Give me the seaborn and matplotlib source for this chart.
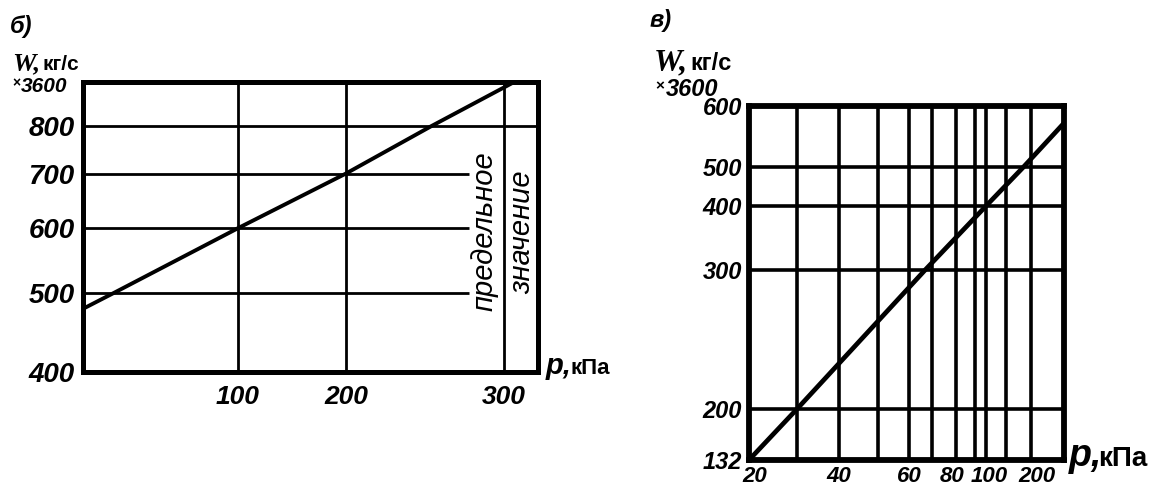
import numpy as np
import matplotlib
matplotlib.use("Agg")
import matplotlib.pyplot as plt
from matplotlib.transforms import ScaledTranslation
import seaborn as sns

# panel б) : W (x3600 kg/s) vs p (kPa), semi-log
p_b = [0, 20, 100, 200, 254, 306]
w_b = [478, 500, 600, 700, 800, 906]
b_xticks = [100, 200, 300]
b_yticks = [400, 500, 600, 700, 800]

# panel в) : nomogram grid
p_v = [20, 30, 67, 100, 185, 300]
w_v = [132, 200, 300, 400, 500, 572]
v_xgrid = [30, 40, 50, 60, 70, 80, 90, 100, 150, 200]
v_xticks = [20, 40, 60, 80, 100, 200]
v_ygrid = [200, 300, 400, 500]
v_yticks = [132, 200, 300, 400, 500, 600]

# the printed axes are not uniform -> ruler of value vs. position measured on the scan
b_xruler = ([0, 100, 200, 300, 320], [0, 155, 263, 421, 455])
v_xruler = ([20, 30, 40, 50, 60, 70, 80, 90, 100, 150, 200, 300],
            [0, 48, 90, 129, 160, 183, 207, 226, 237, 257, 282, 315])
v_yruler = ([132, 200, 300, 400, 500, 600], [0, 51, 190, 254, 293, 354])


def ruler(vals, pos):
    fwd = lambda v: np.interp(v, vals, pos)
    inv = lambda u: np.interp(u, pos, vals)
    return fwd, inv


sns.set_theme(style="white")
plt.rcParams['font.family'] = ['Liberation Sans', 'DejaVu Sans']
plt.rcParams['text.color'] = 'black'
plt.rcParams['xtick.color'] = 'black'
plt.rcParams['ytick.color'] = 'black'

W, H = 1157, 488
fig = plt.figure(figsize=(W / 100, H / 100), dpi=100)


def fx(px):
    return px / W


def fy(py):
    return 1 - py / H


tick_font = dict(fontweight='bold', fontstyle='italic')

# ---------- panel б ----------
ax1 = fig.add_axes([fx(83), fy(372), fx(538 - 83), (372 - 82) / H])
ax1.set_xscale('function', functions=ruler(*b_xruler))
ax1.set_yscale('log')
for v in b_xticks:
    ax1.axvline(v, color='black', lw=2.0, zorder=1)
ax1.hlines([500, 600, 700], 0, 278, color='black', lw=2.0, zorder=1)
ax1.axhline(800, color='black', lw=2.0, zorder=1)
sns.lineplot(x=p_b, y=w_b, ax=ax1, color='black', lw=2.8, zorder=3)
ax1.set_xlim(0, 320)
ax1.set_ylim(400, 906)
ax1.set_xticks(b_xticks)
ax1.set_xticklabels([str(v) for v in b_xticks], fontsize=19, **tick_font)
ax1.set_yticks(b_yticks)
ax1.set_yticklabels([str(v) for v in b_yticks], fontsize=20, **tick_font)
ax1.yaxis.set_minor_locator(matplotlib.ticker.NullLocator())
ax1.tick_params(axis='x', length=0, pad=9)
ax1.tick_params(axis='y', length=0, pad=6)
for s in ax1.spines.values():
    s.set_color('black')
    s.set_linewidth(3.6)
ax1.set_xlabel('')
ax1.set_ylabel('')
ax1.text(0.8835, 0.486, 'предельное', transform=ax1.transAxes, rotation=90,
         ha='center', va='center', fontsize=21, fontstyle='italic')
ax1.text(0.965, 0.483, 'значение', transform=ax1.transAxes, rotation=90,
         ha='center', va='center', fontsize=21, fontstyle='italic')

# ---------- panel в ----------
ax2 = fig.add_axes([fx(749), fy(460), fx(1064 - 749), (460 - 106) / H])
ax2.set_xscale('function', functions=ruler(*v_xruler))
ax2.set_yscale('function', functions=ruler(*v_yruler))
for v in v_xgrid:
    ax2.axvline(v, color='black', lw=2.6, zorder=1)
for v in v_ygrid:
    ax2.axhline(v, color='black', lw=2.6, zorder=1)
sns.lineplot(x=p_v, y=w_v, ax=ax2, color='black', lw=3.4, zorder=3)
ax2.set_xlim(20, 300)
ax2.set_ylim(132, 600)
ax2.set_xticks(v_xticks)
ax2.set_xticklabels([str(v) for v in v_xticks], fontsize=16, **tick_font)
ax2.set_yticks(v_yticks)
ax2.set_yticklabels([str(v) for v in v_yticks], fontsize=17, **tick_font)
ax2.xaxis.set_minor_locator(matplotlib.ticker.NullLocator())
ax2.yaxis.set_minor_locator(matplotlib.ticker.NullLocator())
ax2.tick_params(axis='x', length=0, pad=4)
ax2.tick_params(axis='y', length=0, pad=5)
# crowded labels near 100: nudge them apart a little, as on the original
nudge = {'20': 6, '80': -4, '100': 3, '200': 6}
for lbl in ax2.get_xticklabels():
    dx = nudge.get(lbl.get_text(), 0)
    if dx:
        lbl.set_transform(lbl.get_transform() + ScaledTranslation(dx / 100, 0, fig.dpi_scale_trans))
for s in ax2.spines.values():
    s.set_color('black')
    s.set_linewidth(4.2)
ax2.set_xlabel('')
ax2.set_ylabel('')

# ---------- captions and axis names ----------
serif_w = dict(family=['Liberation Serif', 'DejaVu Serif'], fontweight='bold', fontstyle='italic')
bold = dict(fontweight='bold')

fig.text(fx(10), fy(27), 'б)', ha='left', va='center', fontsize=17, **tick_font)
fig.text(fx(650), fy(21), 'в)', ha='left', va='center', fontsize=17, **tick_font)

fig.text(fx(12), fy(70), 'W,', ha='left', va='baseline', fontsize=19, **serif_w)
fig.text(fx(42), fy(70), 'кг/с', ha='left', va='baseline', fontsize=15, **bold)
fig.text(fx(12), fy(87), '×', ha='left', va='baseline', fontsize=10, **bold)
fig.text(fx(21), fy(92), '3600', ha='left', va='baseline', fontsize=15, **tick_font)

fig.text(fx(654), fy(70), 'W,', ha='left', va='baseline', fontsize=23, **serif_w)
fig.text(fx(690), fy(70), 'кг/с', ha='left', va='baseline', fontsize=17, **bold)
fig.text(fx(655), fy(90), '×', ha='left', va='baseline', fontsize=11, **bold)
fig.text(fx(666), fy(96), '3600', ha='left', va='baseline', fontsize=17, **tick_font)

fig.text(fx(546), fy(374), 'p,', ha='left', va='baseline', fontsize=21, **tick_font)
fig.text(fx(571), fy(374), 'кПа', ha='left', va='baseline', fontsize=16, **bold)
fig.text(fx(1069), fy(466), 'p,', ha='left', va='baseline', fontsize=27, **tick_font)
fig.text(fx(1098), fy(466), 'кПа', ha='left', va='baseline', fontsize=20, **bold)

fig.savefig('out.png', dpi=100, facecolor='white')
